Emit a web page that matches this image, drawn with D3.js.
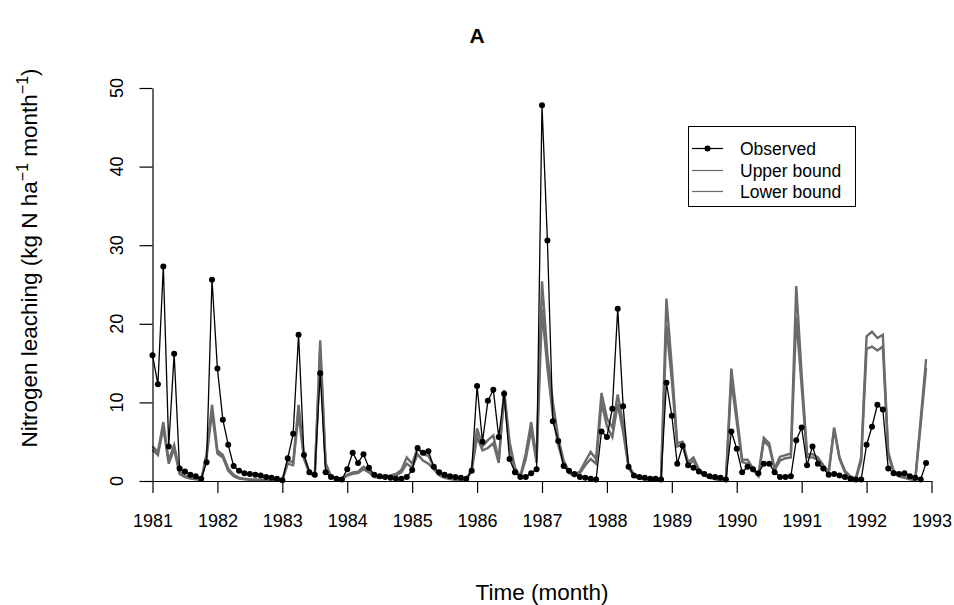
<!DOCTYPE html>
<html><head><meta charset="utf-8">
<script src="https://cdn.jsdelivr.net/npm/d3@7"></script>
<style>body{margin:0;background:#fff}svg{display:block;font-family:"Liberation Sans",Arial,sans-serif}</style>
</head><body>
<svg id="c" width="954" height="605"></svg>
<script>
const startYear = 1981;
const xTicks = [1981,1982,1983,1984,1985,1986,1987,1988,1989,1990,1991,1992,1993];
const yTicks = [0,10,20,30,40,50];
const seriesNames = ["Observed","Upper bound","Lower bound"];
const observed = [
 16.0,12.3,27.3,4.4,16.2,1.6,1.2,0.8,0.6,0.3,2.4,25.6,
 14.3,7.8,4.6,1.9,1.3,1.0,0.9,0.8,0.7,0.5,0.4,0.3,
 0.1,2.9,6.0,18.6,3.3,1.1,0.8,13.7,1.1,0.5,0.3,0.2,
 1.5,3.6,2.3,3.4,1.7,0.8,0.6,0.5,0.4,0.3,0.3,0.5,
 1.4,4.2,3.6,3.8,1.8,1.1,0.8,0.6,0.5,0.4,0.3,1.3,
 12.1,5.0,10.2,11.6,5.6,11.1,2.8,1.1,0.5,0.5,1.0,1.5,
 47.8,30.6,7.6,5.1,1.9,1.3,0.9,0.5,0.4,0.3,0.2,6.3,
 5.6,9.2,21.9,9.5,1.8,0.7,0.5,0.4,0.3,0.3,0.2,12.5,
 8.3,2.2,4.5,2.0,1.7,1.2,0.9,0.6,0.5,0.4,0.2,6.3,
 4.1,1.1,1.8,1.5,1.0,2.2,2.2,1.1,0.5,0.5,0.6,5.2,
 6.8,2.0,4.4,2.2,1.6,0.8,0.9,0.7,0.5,0.3,0.2,0.2,
 4.6,6.9,9.7,9.1,1.6,1.0,0.9,1.0,0.6,0.4,0.2,2.3
];
const upper = [
 4.4,3.7,7.5,2.6,4.6,1.2,0.7,0.4,0.3,0.1,3.5,9.7,
 3.9,3.3,1.6,0.8,0.4,0.3,0.2,0.2,0.15,0.1,0.1,0.1,
 0.1,2.6,2.4,9.7,3.2,1.2,0.7,17.9,2.3,0.6,0.4,0.3,
 0.8,1.1,1.2,1.8,1.3,0.6,0.5,0.6,0.7,0.9,1.4,3.0,
 2.2,4.2,3.4,3.2,1.8,0.9,0.5,0.3,0.2,0.15,0.1,1.6,
 6.7,4.4,5.2,5.8,2.5,11.6,5.0,1.7,0.6,3.5,7.5,2.8,
 25.4,16.0,10.1,5.5,2.6,1.2,0.8,1.2,2.5,3.7,2.8,11.2,
 8.0,6.8,11.0,7.3,2.0,0.8,0.4,0.3,0.2,0.15,0.1,23.2,
 14.5,4.8,5.0,2.4,3.0,1.5,0.9,0.5,0.3,0.2,0.1,14.3,
 8.5,2.7,2.7,1.6,0.7,5.5,4.8,1.6,3.1,3.3,3.5,24.8,
 13.5,3.4,3.4,3.0,2.0,1.2,6.8,3.0,1.3,0.6,0.3,3.0,
 18.4,19.0,18.2,18.6,3.7,1.3,0.8,0.5,0.3,0.2,7.8,15.5
];
const lower = [
 4.0,3.3,6.8,2.2,4.1,0.9,0.5,0.3,0.2,0.1,3.0,8.8,
 3.5,3.0,1.3,0.6,0.3,0.2,0.15,0.1,0.1,0.1,0.1,0.1,
 0.1,2.2,2.0,8.6,2.8,1.0,0.6,16.8,2.0,0.5,0.3,0.2,
 0.7,0.9,1.0,1.5,1.1,0.5,0.4,0.5,0.6,0.7,1.1,2.2,
 1.7,3.4,2.6,2.2,1.5,0.7,0.4,0.25,0.15,0.1,0.1,1.3,
 5.6,3.9,4.2,4.8,2.3,10.9,4.4,1.3,0.5,2.8,6.5,2.3,
 21.8,14.4,8.4,4.6,2.1,1.0,0.6,1.0,2.0,2.8,2.2,10.0,
 7.0,5.6,9.8,6.2,1.7,0.6,0.3,0.2,0.15,0.1,0.1,19.8,
 12.8,4.4,4.6,2.0,2.6,1.2,0.7,0.4,0.2,0.1,0.1,12.8,
 7.5,2.4,2.2,1.4,0.6,5.1,4.4,1.4,2.6,2.9,3.0,20.8,
 12.0,3.0,3.0,2.7,1.8,1.0,6.6,2.8,1.1,0.5,0.2,2.5,
 16.8,17.1,16.6,17.1,3.3,1.1,0.6,0.4,0.2,0.1,7.2,14.4
];

const svg = d3.select("#c");
const x = d3.scaleLinear().domain([1981,1993]).range([152.5,931.5]);
const y = d3.scaleLinear().domain([0,50]).range([481,88]);
const t = i => startYear + i/12;
const gray = "#6b6b6b";

const line = d3.line().x((d,i)=>x(t(i))).y(d=>y(d));

[upper, lower].forEach(s => {
  svg.append("path").attr("d", line(s)).attr("fill","none")
    .attr("stroke", gray).attr("stroke-width",2.4).attr("stroke-linejoin","miter");
});
svg.append("path").attr("d", line(observed)).attr("fill","none")
  .attr("stroke","#000").attr("stroke-width",1.3);
svg.append("g").selectAll("circle").data(observed).join("circle")
  .attr("cx",(d,i)=>x(t(i))).attr("cy",d=>y(d)).attr("r",3).attr("fill","#000");

const xa = svg.append("g").attr("transform","translate(0,481)")
  .call(d3.axisBottom(x).tickValues(xTicks).tickFormat(d3.format("d")).tickSize(12).tickSizeOuter(0).tickPadding(21));
xa.selectAll("text").attr("font-size",18).attr("fill","#000").attr("font-family","Liberation Sans, Arial, sans-serif");
xa.selectAll("line,path").attr("stroke","#000").attr("stroke-width",1.2);

const ya = svg.append("g").attr("transform","translate(152.5,0)")
  .call(d3.axisLeft(y).tickValues(yTicks).tickSize(13).tickSizeOuter(0).tickFormat(""));
ya.selectAll("line,path").attr("stroke","#000").attr("stroke-width",1.2);
svg.append("g").selectAll("text").data(yTicks).join("text")
  .attr("transform", d=>`translate(123,${y(d)}) rotate(-90)`)
  .attr("text-anchor","middle").attr("font-size",18).text(d=>d);

svg.append("text").attr("x",477).attr("y",43).attr("text-anchor","middle")
  .attr("font-size",21).attr("font-weight","bold").text("A");

svg.append("text").attr("x",542).attr("y",600).attr("text-anchor","middle")
  .attr("font-size",22.5).text("Time (month)");

const yl = svg.append("text").attr("transform","translate(37,258) rotate(-90)")
  .attr("text-anchor","middle").attr("font-size",22.5);
yl.append("tspan").text("Nitrogen leaching (kg N ha");
yl.append("tspan").attr("dy",-9).attr("font-size",16).text("\u22121");
yl.append("tspan").attr("dy",9).text(" month");
yl.append("tspan").attr("dy",-9).attr("font-size",16).text("\u22121");
yl.append("tspan").attr("dy",9).text(")");

const lg = svg.append("g");
lg.append("rect").attr("x",688.5).attr("y",126.5).attr("width",167).attr("height",80)
  .attr("fill","#fff").attr("stroke","#000").attr("stroke-width",1);
const rowsY = [148.5,170.5,191.5];
seriesNames.forEach((name,k)=>{
  lg.append("line").attr("x1",692).attr("x2",723).attr("y1",rowsY[k]).attr("y2",rowsY[k])
    .attr("stroke", k===0 ? "#000" : gray).attr("stroke-width",1.2);
  if(k===0) lg.append("circle").attr("cx",707.5).attr("cy",rowsY[k]).attr("r",3).attr("fill","#000");
  lg.append("text").attr("x",740).attr("y",rowsY[k]).attr("dy","0.35em")
    .attr("font-size",17.5).text(name);
});
</script>
</body></html>
